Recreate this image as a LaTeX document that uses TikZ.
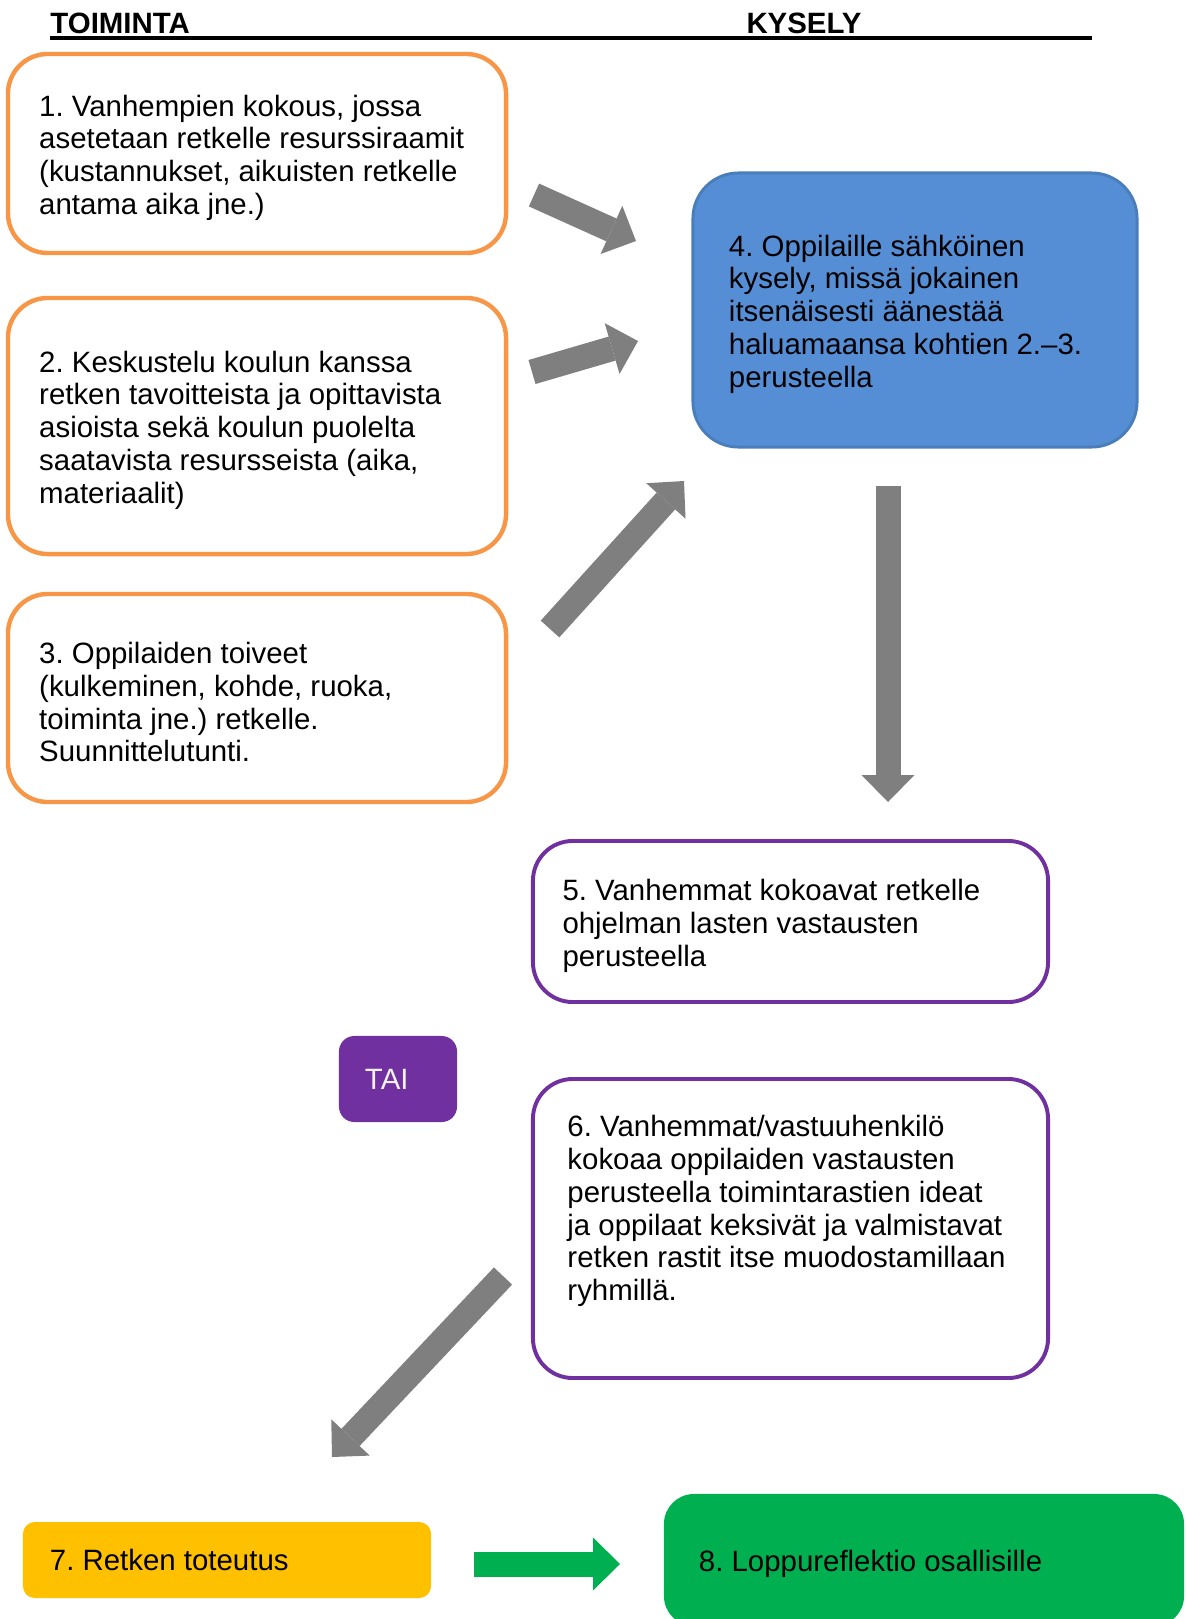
\documentclass[tikz,border=0pt]{standalone}
\usepackage{fontspec}
\setmainfont{Liberation Sans}
\usepackage{tikz}
\usetikzlibrary{arrows.meta, positioning}
\usepackage{xcolor}
\frenchspacing
\definecolor{boxorange}{HTML}{F79646}
\definecolor{boxblue}{HTML}{558ED5}
\definecolor{boxblueedge}{HTML}{4A7EBB}
\definecolor{boxpurple}{HTML}{7030A0}
\definecolor{boxyellow}{HTML}{FFC000}
\definecolor{boxgreen}{HTML}{00B050}
\definecolor{arrowgray}{HTML}{7F7F7F}
\tikzset{
  orangebox/.style={rectangle, rounded corners=0.57cm, draw=boxorange, line width=1.8pt,
                 fill=white, minimum width=7.144cm},
  bluebox/.style={rectangle, rounded corners=0.65cm, draw=boxblueedge, line width=1.2pt,
                 fill=boxblue, minimum width=6.37cm, minimum height=3.931cm},
  purplebox/.style={rectangle, rounded corners=0.57cm, draw=boxpurple, line width=1.6pt,
                 fill=white, minimum width=7.388cm},
  flatbox/.style={rectangle, draw=none, inner sep=0pt},
  boxtext/.style={inner sep=0pt, align=left, font=\fontsize{12}{13.4}\selectfont},
  blocktext/.style={boxtext, yshift=-0.06cm},
  headtext/.style={inner sep=0pt, anchor=base west, font=\fontsize{12}{13.4}\selectfont\bfseries},
  blockarrow/.style={draw=arrowgray, line width=10.2pt,
                 -{Triangle[length=11pt 0, width=21.6pt 0, line width=0pt 0]}},
}

\begin{document}
\begin{tikzpicture}[x=0.014346cm, y=-0.014346cm]
    \useasboundingbox (0,0) rectangle (1185,1619);
    %% headings
    \node[headtext] (toiminta) at (50,33) {TOIMINTA};
    \node[headtext] (kysely) at (746,33) {KYSELY};
    \draw[line width=1.5pt] (50,38) -- (1092,38);
    %% left column: planning steps
    \node[orangebox, minimum height=2.855cm] (v1) at (257,153.5) {};
    \node[blocktext, right=0.473cm of v1.west] (v1t) {1. Vanhempien kokous, jossa\\
      asetetaan retkelle resurssiraamit\\(kustannukset, aikuisten retkelle\\antama aika jne.)};
    \node[orangebox, minimum height=3.673cm] (v2) at (257,426) {};
    \node[blocktext, right=0.473cm of v2.west] (v2t) {2. Keskustelu koulun kanssa\\
      retken tavoitteista ja opittavista\\asioista sekä koulun puolelta\\
      saatavista resursseista (aika,\\materiaalit)};
    \node[orangebox, minimum height=2.984cm] (v3) at (257,698) {};
    \node[blocktext, right=0.473cm of v3.west] (v3t) {3. Oppilaiden toiveet\\
      (kulkeminen, kohde, ruoka,\\toiminta jne.) retkelle.\\Suunnittelutunti.};
    %% right column: survey
    \node[bluebox] (v4) at (915,310) {};
    \node[blocktext, right=0.531cm of v4.west] (v4t) {4. Oppilaille sähköinen\\
      kysely, missä jokainen\\itsenäisesti äänestää\\haluamaansa kohtien 2.–3.\\perusteella};
    \node[purplebox, minimum height=2.31cm] (v5) at (790.5,921.5) {};
    \node[blocktext, right=0.445cm of v5.west] (v5t) {5. Vanhemmat kokoavat retkelle\\
      ohjelman lasten vastausten\\perusteella};
    \node[flatbox, rounded corners=0.22cm, fill=boxpurple, minimum width=1.693cm,
          minimum height=1.234cm] (tai) at (398,1079) {};
    \node[boxtext, text=white!95!black, right=0.373cm of tai.west] (tait) {TAI};
    \node[purplebox, minimum height=4.289cm] (v6) at (790.5,1228.5) {};
    \node[boxtext, yshift=0.25cm, right=0.516cm of v6.west] (v6t) {6. Vanhemmat/vastuuhenkilö\\
      kokoaa oppilaiden vastausten\\perusteella toimintarastien ideat\\
      ja oppilaat keksivät ja valmistavat\\retken rastit itse muodostamillaan\\ryhmillä.};
    %% bottom row
    \node[flatbox, rounded corners=0.17cm, fill=boxyellow, minimum width=5.853cm,
          minimum height=1.09cm] (v7) at (227,1560) {};
    \node[boxtext, right=0.387cm of v7.west] (v7t) {7. Retken toteutus};
    \node[flatbox, rounded corners=0.43cm, fill=boxgreen, minimum width=7.46cm,
          minimum height=1.894cm] (v8) at (924,1560) {};
    \node[blocktext, right=0.502cm of v8.west] (v8t) {8. Loppureflektio osallisille};
    %% block arrows
    \coordinate (a1s) at (534,195);   \coordinate (a1e) at (636,241);
    \coordinate (a2s) at (532,372);   \coordinate (a2e) at (638,341);
    \coordinate (a3s) at (550,629);   \coordinate (a3e) at (684,481);
    \coordinate (a4s) at (888,486);   \coordinate (a4e) at (888,802);
    \coordinate (a6s) at (503,1276);  \coordinate (a6e) at (332,1457);
    \coordinate (a7s) at (474,1564);  \coordinate (a7e) at (620,1564);
    \draw[blockarrow] (a1s) -- (a1e);
    \draw[blockarrow] (a2s) -- (a2e);
    \draw[blockarrow] (a3s) -- (a3e);
    \draw[blockarrow] (a4s) -- (a4e);
    \draw[blockarrow] (a6s) -- (a6e);
    \draw[blockarrow, draw=boxgreen] (a7s) -- (a7e);
\end{tikzpicture}
\end{document}
